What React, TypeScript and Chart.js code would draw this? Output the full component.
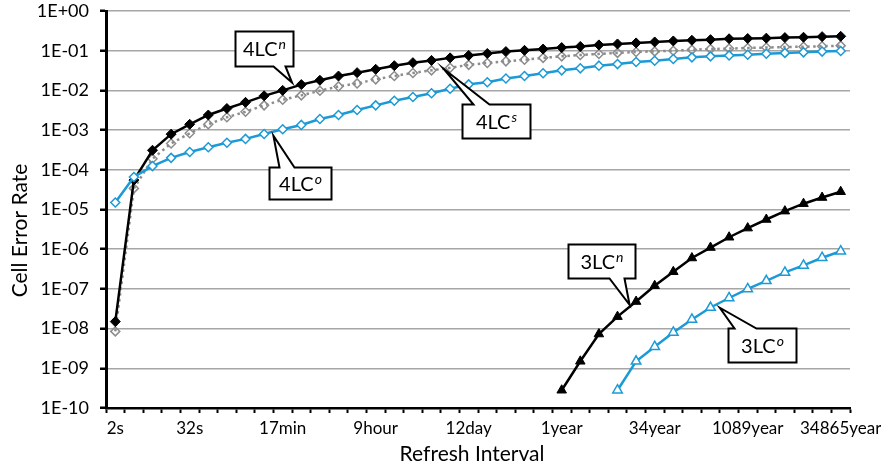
import React, { useEffect, useRef } from "react";
import { Chart, registerables } from "chart.js";

Chart.register(...registerables);

// ---- Data ----
const CATEGORIES = [
  "2s", "4s", "8s", "16s", "32s", "64s", "128s", "256s", "512s", "17min",
  "34min", "68min", "137min", "4.6hour", "9hour", "18hour", "36hour", "3day", "6day", "12day",
  "24day", "49day", "97day", "194day", "1year", "2year", "4year", "9year", "17year", "34year",
  "68year", "136year", "272year", "545year", "1089year", "2179year", "4358year", "8716year", "17432year", "34865year",
];

const SHOWN_LABELS = ["2s", "32s", "17min", "9hour", "12day", "1year", "34year", "1089year", "34865year"];

const Y_TICKS = [1e-10, 1e-9, 1e-8, 1e-7, 1e-6, 1e-5, 1e-4, 1e-3, 1e-2, 1e-1, 1];

const LC4_N = [
  1.5e-8, 5.5e-5, 3.1e-4, 7.9e-4, 1.4e-3, 2.4e-3, 3.5e-3, 5.0e-3, 7.3e-3, 1.0e-2,
  1.4e-2, 1.8e-2, 2.3e-2, 2.8e-2, 3.4e-2, 4.2e-2, 5.0e-2, 5.7e-2, 6.6e-2, 7.6e-2,
  8.5e-2, 9.5e-2, 1.02e-1, 1.1e-1, 1.2e-1, 1.28e-1, 1.4e-1, 1.48e-1, 1.57e-1, 1.66e-1,
  1.76e-1, 1.83e-1, 1.9e-1, 2.0e-1, 2.03e-1, 2.07e-1, 2.14e-1, 2.18e-1, 2.26e-1, 2.3e-1,
];

const LC4_S = [
  8.5e-9, 3.4e-5, 1.9e-4, 4.6e-4, 8.3e-4, 1.4e-3, 2.1e-3, 2.9e-3, 4.2e-3, 5.8e-3,
  7.5e-3, 9.8e-3, 1.26e-2, 1.5e-2, 1.9e-2, 2.3e-2, 2.75e-2, 3.2e-2, 3.7e-2, 4.4e-2,
  4.9e-2, 5.4e-2, 5.9e-2, 6.6e-2, 7.2e-2, 7.8e-2, 8.3e-2, 8.8e-2, 9.3e-2, 9.6e-2,
  1.0e-1, 1.06e-1, 1.1e-1, 1.13e-1, 1.17e-1, 1.2e-1, 1.24e-1, 1.26e-1, 1.29e-1, 1.34e-1,
];

const LC4_O = [
  1.5e-5, 6.6e-5, 1.24e-4, 2.0e-4, 2.8e-4, 3.7e-4, 4.8e-4, 6.0e-4, 8.0e-4, 1.05e-3,
  1.35e-3, 1.9e-3, 2.4e-3, 3.2e-3, 4.2e-3, 5.5e-3, 6.8e-3, 8.5e-3, 1.1e-2, 1.42e-2,
  1.6e-2, 2.0e-2, 2.3e-2, 2.7e-2, 3.2e-2, 3.6e-2, 4.2e-2, 4.6e-2, 5.2e-2, 5.6e-2,
  6.2e-2, 6.8e-2, 7.2e-2, 7.6e-2, 7.9e-2, 8.4e-2, 8.8e-2, 9.1e-2, 9.5e-2, 9.8e-2,
];

// 3LC series start part-way along the axis
const LC3_N_START = "1year";
const LC3_N = [
  2.8e-10, 1.5e-9, 7.3e-9, 2.0e-8, 4.8e-8, 1.2e-7, 2.7e-7, 6.0e-7,
  1.1e-6, 2.0e-6, 3.4e-6, 5.6e-6, 9.1e-6, 1.4e-5, 2.0e-5, 2.8e-5,
];

const LC3_O_START = "9year";
const LC3_O = [
  2.8e-10, 1.5e-9, 3.5e-9, 8.0e-9, 1.7e-8, 3.4e-8, 5.9e-8,
  1.0e-7, 1.6e-7, 2.6e-7, 3.9e-7, 6.1e-7, 8.9e-7,
];

// ---- Styling / layout ----
const FONT = "Lato, 'Open Sans', sans-serif";
const BLUE = "#1b9ad6";
const GRAY = "#8c8c8c";

const padFrom = (start: string, vals: number[]) => {
  const k = CATEGORIES.indexOf(start);
  return CATEGORIES.map((_, i) => (i >= k && i - k < vals.length ? vals[i - k] : null));
};

// callout annotations: anchored between point idx and idx+1 of a series
const CALLOUTS = [
  { main: "4LC", sup: "n", series: "4LCn", idx: 9, frac: 0.5, oy: -5, bx: -57, by: -51, w: 58, h: 35, side: "bottom", b1: 38, b2: 50 },
  { main: "4LC", sup: "s", series: "4LCs", idx: 17, frac: 0.65, oy: 0, bx: 18, by: 35, w: 68, h: 34, side: "top", b1: 11, b2: 27 },
  { main: "4LC", sup: "o", series: "4LCo", idx: 8, frac: 0.5, oy: 4, bx: -4, by: 31, w: 62, h: 32, side: "top", b1: 10, b2: 25 },
  { main: "3LC", sup: "n", series: "3LCn", idx: 27, frac: 0.65, oy: -2, bx: -62, by: -61, w: 67, h: 34, side: "bottom", b1: 41, b2: 56 },
  { main: "3LC", sup: "o", series: "3LCo", idx: 32, frac: 0.5, oy: 5, bx: 8, by: 20, w: 68, h: 34, side: "top", b1: 6, b2: 28 },
];

const calloutPlugin = {
  id: "callouts",
  afterDatasetsDraw(chart: any) {
    const ctx = chart.ctx;
    ctx.save();
    for (const c of CALLOUTS) {
      const dsIndex = chart.data.datasets.findIndex((d: any) => d.label === c.series);
      const pts = chart.getDatasetMeta(dsIndex).data;
      const p0 = pts[c.idx];
      const p1 = pts[c.idx + 1];
      const tx = p0.x + (p1.x - p0.x) * c.frac;
      const ty = p0.y + (p1.y - p0.y) * c.frac + c.oy;
      const L = Math.round(tx + c.bx) + 0.5;
      const T = Math.round(ty + c.by) + 0.5;
      const R = L + c.w;
      const B = T + c.h;
      ctx.beginPath();
      if (c.side === "top") {
        ctx.moveTo(L, T);
        ctx.lineTo(L + c.b1, T);
        ctx.lineTo(tx, ty);
        ctx.lineTo(L + c.b2, T);
        ctx.lineTo(R, T);
        ctx.lineTo(R, B);
        ctx.lineTo(L, B);
      } else {
        ctx.moveTo(L, T);
        ctx.lineTo(R, T);
        ctx.lineTo(R, B);
        ctx.lineTo(L + c.b2, B);
        ctx.lineTo(tx, ty);
        ctx.lineTo(L + c.b1, B);
        ctx.lineTo(L, B);
      }
      ctx.closePath();
      ctx.fillStyle = "#ffffff";
      ctx.fill();
      ctx.lineWidth = 2;
      ctx.lineJoin = "miter";
      ctx.strokeStyle = "#000000";
      ctx.stroke();

      const mainFont = `20px ${FONT}`;
      const supFont = `italic 14px ${FONT}`;
      ctx.font = mainFont;
      const mw = ctx.measureText(c.main).width;
      ctx.font = supFont;
      const sw = ctx.measureText(c.sup).width;
      const total = mw + sw + 1;
      const x0 = (L + R) / 2 - total / 2;
      const base = (T + B) / 2 + 7;
      ctx.fillStyle = "#000000";
      ctx.textAlign = "left";
      ctx.textBaseline = "alphabetic";
      ctx.font = mainFont;
      ctx.fillText(c.main, x0, base);
      ctx.font = supFont;
      ctx.fillText(c.sup, x0 + mw + 1, base - 7);
    }
    ctx.restore();
  },
};

const axisTitlePlugin = {
  id: "axisTitles",
  afterDraw(chart: any) {
    const ctx = chart.ctx;
    const a = chart.chartArea;
    ctx.save();
    ctx.fillStyle = "#000000";
    ctx.font = `21px ${FONT}`;
    ctx.textAlign = "center";
    ctx.textBaseline = "middle";
    ctx.fillText("Refresh Interval", (a.left + a.right) / 2 - 6, a.bottom + 46);
    ctx.translate(20, (a.top + a.bottom) / 2 + 21);
    ctx.rotate(-Math.PI / 2);
    ctx.fillText("Cell Error Rate", 0, 0);
    ctx.restore();
  },
};

const fmtExp = (v: number) => {
  const e = Math.round(Math.log10(v));
  const a = Math.abs(e);
  return "1E" + (e < 0 ? "-" : "+") + (a < 10 ? "0" + a : String(a));
};

export default function App() {
  const ref = useRef<HTMLCanvasElement | null>(null);

  useEffect(() => {
    document.body.style.margin = "0";
    const canvas = ref.current;
    if (!canvas) return;
    const chart = new Chart(canvas, {
      type: "line",
      data: {
        labels: CATEGORIES,
        datasets: [
          {
            label: "4LCo",
            data: LC4_O,
            borderColor: BLUE,
            borderWidth: 2.5,
            pointStyle: "rectRot",
            pointRadius: 4.5,
            pointBackgroundColor: "#ffffff",
            pointBorderColor: BLUE,
            pointBorderWidth: 1.5,
            tension: 0,
          },
          {
            label: "4LCn",
            data: LC4_N,
            borderColor: "#000000",
            borderWidth: 2.5,
            pointStyle: "rectRot",
            pointRadius: 5,
            pointBackgroundColor: "#000000",
            pointBorderColor: "#000000",
            pointBorderWidth: 1,
            tension: 0,
          },
          {
            label: "4LCs",
            data: LC4_S,
            borderColor: GRAY,
            borderWidth: 2.5,
            borderDash: [2.5, 3.5],
            pointStyle: "rectRot",
            pointRadius: 4.5,
            pointBackgroundColor: "rgba(0,0,0,0)",
            pointBorderColor: GRAY,
            pointBorderWidth: 1.5,
            tension: 0,
          },
          {
            label: "3LCo",
            data: padFrom(LC3_O_START, LC3_O),
            borderColor: BLUE,
            borderWidth: 2.5,
            pointStyle: "triangle",
            pointRadius: 5.5,
            pointBackgroundColor: "#ffffff",
            pointBorderColor: BLUE,
            pointBorderWidth: 1.5,
            tension: 0,
          },
          {
            label: "3LCn",
            data: padFrom(LC3_N_START, LC3_N),
            borderColor: "#000000",
            borderWidth: 2.5,
            pointStyle: "triangle",
            pointRadius: 5.5,
            pointBackgroundColor: "#000000",
            pointBorderColor: "#000000",
            pointBorderWidth: 1,
            tension: 0,
          },
        ],
      },
      options: {
        responsive: false,
        animation: false,
        events: [],
        layout: { padding: { left: 0, right: 31, top: 11, bottom: 0 } },
        plugins: { legend: { display: false }, tooltip: { enabled: false } },
        scales: {
          x: {
            type: "category",
            offset: true,
            grid: {
              display: true,
              drawOnChartArea: false,
              drawTicks: true,
              tickLength: 5,
              tickColor: "#000000",
              tickWidth: 2,
              offset: true,
            },
            border: { display: true, color: "#000000", width: 2.5 },
            ticks: {
              autoSkip: false,
              maxRotation: 0,
              minRotation: 0,
              padding: 5,
              color: "#000000",
              font: { family: FONT, size: 17 },
              callback: (_v: any, i: number) => (SHOWN_LABELS.includes(CATEGORIES[i]) ? CATEGORIES[i] : ""),
            },
            afterFit: (s: any) => {
              s.height = 60;
              s.paddingLeft = 0;
              s.paddingRight = 0;
            },
          },
          y: {
            type: "logarithmic",
            min: 1e-10,
            max: 1,
            afterBuildTicks: (s: any) => {
              s.ticks = Y_TICKS.map((v) => ({ value: v }));
            },
            grid: {
              color: "#a6a6a6",
              lineWidth: 1.5,
              drawTicks: true,
              tickLength: 6,
              tickColor: "#000000",
              tickWidth: 2.5,
            },
            border: { display: true, color: "#000000", width: 3 },
            ticks: {
              padding: 11,
              color: "#000000",
              font: { family: FONT, size: 18 },
              callback: (v: any) => fmtExp(Number(v)),
            },
            afterFit: (s: any) => {
              s.width = 106;
              s.paddingTop = 0;
              s.paddingBottom = 0;
            },
          },
        },
      },
      plugins: [calloutPlugin, axisTitlePlugin],
    } as any);
    return () => chart.destroy();
  }, []);

  return (
    <div style={{ width: 881, height: 468 }}>
      <canvas ref={ref} width={881} height={468} style={{ display: "block" }} />
    </div>
  );
}
